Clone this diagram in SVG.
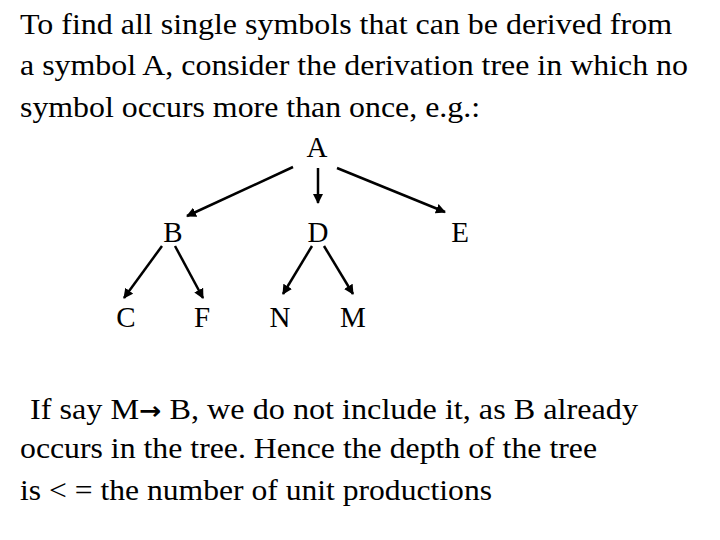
<svg xmlns="http://www.w3.org/2000/svg" width="720" height="540" viewBox="0 0 720 540">
<style>
text{font-family:"Liberation Serif","Times New Roman",serif;font-size:29px;fill:#000}
.n{text-anchor:middle}
.c{stroke:#000;stroke-width:2.5;fill:none;marker-end:url(#ah)}
.ar{font-family:"DejaVu Sans",sans-serif;font-weight:bold;font-size:24px}
</style>
<defs>
<marker id="ah" viewBox="0 0 10 10" refX="9" refY="5" markerWidth="4" markerHeight="4" orient="auto" markerUnits="strokeWidth">
<path d="M0,0 L10,5 L0,10 z" fill="#000"/>
</marker>
</defs>
<rect width="720" height="540" fill="#fff"/>
<g id="intro">
<text x="20" y="34" textLength="652" lengthAdjust="spacingAndGlyphs">To find all single symbols that can be derived from</text>
<text x="20" y="75" textLength="668" lengthAdjust="spacingAndGlyphs">a symbol A, consider the derivation tree in which no</text>
<text x="20" y="117" textLength="460" lengthAdjust="spacingAndGlyphs">symbol occurs more than once, e.g.:</text>
</g>
<g id="connectors">
<line class="c" x1="293" y1="167" x2="187" y2="216"/>
<line class="c" x1="318" y1="168" x2="318" y2="203"/>
<line class="c" x1="337" y1="168" x2="445" y2="212"/>
<line class="c" x1="162" y1="246" x2="124" y2="298"/>
<line class="c" x1="175" y1="246" x2="203" y2="298"/>
<line class="c" x1="312" y1="246" x2="283" y2="294"/>
<line class="c" x1="324" y1="246" x2="353" y2="294"/>
</g>
<g id="node-A"><text class="n" x="317" y="157">A</text></g>
<g id="node-B"><text class="n" x="173" y="242">B</text></g>
<g id="node-D"><text class="n" x="318" y="242">D</text></g>
<g id="node-E"><text class="n" x="460" y="242">E</text></g>
<g id="node-C"><text class="n" x="126" y="327">C</text></g>
<g id="node-F"><text class="n" x="202" y="327">F</text></g>
<g id="node-N"><text class="n" x="280" y="327">N</text></g>
<g id="node-M"><text class="n" x="353" y="327">M</text></g>
<g id="outro">
<text x="30" y="419" textLength="608" lengthAdjust="spacingAndGlyphs">If say M<tspan class="ar">→</tspan> B, we do not include it, as B already</text>
<text x="20" y="458" textLength="577" lengthAdjust="spacingAndGlyphs">occurs in the tree. Hence the depth of the tree</text>
<text x="20" y="500" textLength="472" lengthAdjust="spacingAndGlyphs">is &lt; = the number of unit productions</text>
</g>
</svg>
